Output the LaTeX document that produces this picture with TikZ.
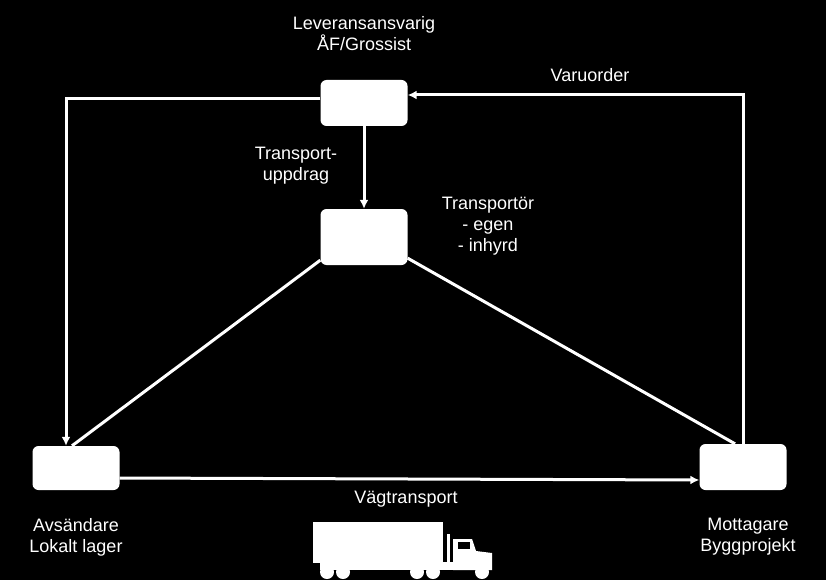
\documentclass[tikz,border=0pt]{standalone}
\usepackage{fontspec}
\setmainfont{Liberation Sans}
\begin{document}
\begin{tikzpicture}[x=1pt,y=-1pt,
  box/.style={fill=white,rounded corners=6pt,minimum width=87pt,minimum height=46pt,inner sep=0},
  lbl/.style={text=white,font=\fontsize{18}{21}\selectfont,align=center},
  conn/.style={draw=white,line width=3pt},
  arr/.style={conn,-{Latex[length=9pt,width=9pt]}}]
\usetikzlibrary{arrows.meta}
\fill[black] (0,0) rectangle (826,580);
\useasboundingbox (0,0) rectangle (826,580);
\node[box] (top) at (364,103) {};
\node[box,minimum height=56pt] (mid) at (364,237) {};
\node[box,minimum height=44pt] (send) at (76,468) {};
\node[box,minimum height=46pt] (recv) at (743,467) {};
\coordinate (lc) at (66,99);
\coordinate (rc) at (743,95);
\draw[arr] (top.west |- lc) -- (lc) -- (lc |- send.north);
\draw[arr] (recv.north -| rc) -- (rc) -- (top.east |- rc);
\draw[arr] (top) -- (mid);
\draw[conn] (mid.south west) ++(0,-5) -- ([xshift=-4pt]send.north);
\draw[conn] (mid.south east) ++(0,-7) -- ([xshift=-8pt]recv.north);
\draw[arr] (send.east |- 0,478) -- (recv.west |- 0,480);
\node[lbl] (t1) at (364,34) {Leveransansvarig\\ÅF/Grossist};
\node[lbl] (t2) at (590,75) {Varuorder};
\node[lbl] (t3) at (296,166) {Transport-\\uppdrag};
\node[lbl] (t4) at (488,226) {Transportör\\- egen\\- inhyrd};
\node[lbl] (t5) at (76,537) {Avsändare\\Lokalt lager};
\node[lbl] (t6) at (748,537) {Mottagare\\Byggprojekt};
\node[lbl] (t7) at (406,499) {Vägtransport};
% truck
\fill[white] (313,522) rectangle (443,563);
\fill[white] (320,562) rectangle (492,570);
\fill[white] (447,534) rectangle (450,564);
\fill[white] (453,539) -- (472,539) -- (476,551) -- (492,553) -- (492,570) -- (453,570) -- cycle;
\fill[black] (458,542) rectangle (470,549);
\foreach \x in {327,343,417,433,482} \fill[white] (\x,572) circle (7);
\end{tikzpicture}
\end{document}
